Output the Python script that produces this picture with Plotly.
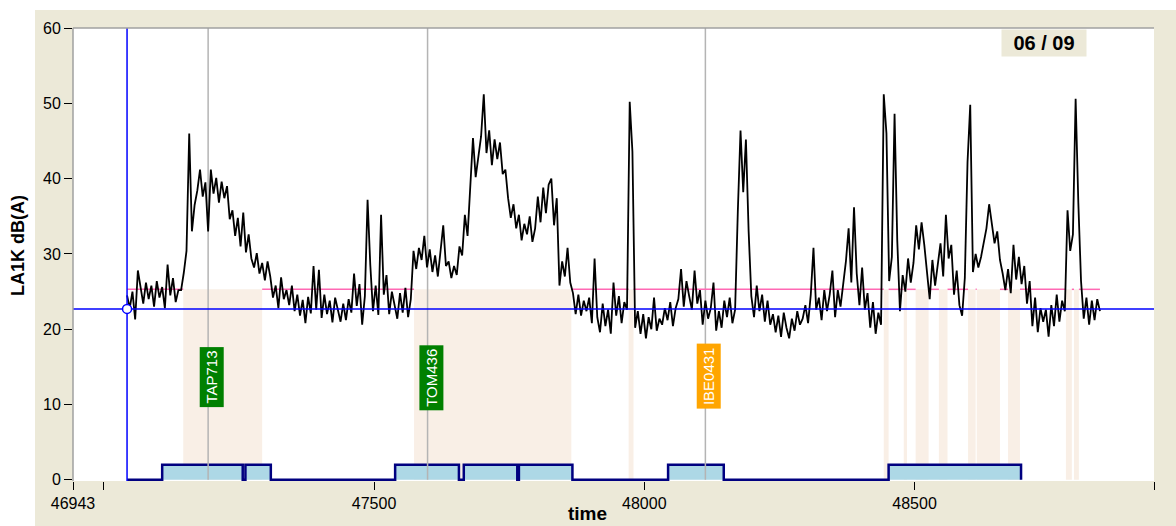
import plotly.graph_objects as go

# ---------------- data ----------------
t_start = 47043
t_step = 5
la1k = [
    24.5, 22.8, 25.0, 21.3, 27.8, 25.5, 23.4, 26.2, 24.0, 25.8,
    23.0, 26.4, 24.2, 25.6, 22.8, 28.6, 24.5, 26.8, 23.6, 25.2,
    25.2, 27.5, 30.4, 46.0, 33.0, 36.5, 38.4, 41.2, 37.6, 39.5,
    33.0, 41.2, 38.0, 40.1, 36.8, 39.6, 37.4, 39.0, 34.6, 35.8,
    32.4, 34.8, 31.0, 35.5, 30.2, 32.6, 29.4, 28.2, 30.1, 27.4,
    28.8, 26.5, 29.0, 27.0, 24.2, 25.8, 22.8, 26.9, 24.0, 25.2,
    23.2, 25.8, 22.4, 24.6, 21.8, 23.9, 20.8, 24.3, 22.1, 28.4,
    22.6, 27.9, 21.5, 24.6, 22.0, 23.8, 20.9, 24.2, 22.5, 21.0,
    23.4, 21.2, 24.0, 22.2, 27.4, 23.1, 26.0, 20.6, 24.4, 37.2,
    28.6, 22.4, 25.8, 21.9, 35.2, 24.6, 27.2, 22.0, 25.0, 23.2,
    21.4, 24.8, 22.2, 25.5, 21.6, 24.0, 30.4, 28.0, 30.8, 29.2,
    32.4, 28.2, 30.6, 27.6, 29.8, 27.0, 30.2, 33.8, 28.4, 29.0,
    26.8, 28.4, 27.2, 31.0, 29.8, 35.2, 32.4, 38.6, 45.4, 40.2,
    42.8, 45.6, 51.2, 43.4, 46.4, 41.8, 45.2, 42.6, 44.8, 40.6,
    41.2, 37.4, 34.8, 36.6, 33.4, 35.2, 31.8, 34.0, 32.6, 35.0,
    31.6, 33.4, 37.6, 34.2, 38.8, 35.4, 39.2, 40.0, 33.8, 37.4,
    25.8, 29.0, 27.0, 30.8, 26.2, 24.8, 22.0, 24.6, 21.8, 23.8,
    22.4, 24.2, 20.8, 29.4, 21.6, 19.6, 23.4, 20.4, 22.6, 19.4,
    26.2, 21.8, 24.4, 20.8, 23.6, 22.6, 50.2, 43.6, 20.2, 22.4,
    19.4, 22.0, 18.8, 21.6, 20.0, 24.2, 19.8, 21.4, 20.6, 22.8,
    21.2, 23.6, 20.4, 22.8, 24.0, 28.0, 23.0, 26.4, 24.4, 22.6,
    27.8, 23.4, 25.2, 20.6, 23.8, 21.4, 22.8, 26.2, 19.8, 22.4,
    20.2, 23.8, 21.6, 24.2, 20.8, 22.6, 35.6, 46.4, 38.2, 45.2,
    33.0, 24.4, 21.6, 25.8, 22.4, 24.6, 21.0, 23.8, 20.6, 22.0,
    19.6, 21.8, 19.0, 22.2, 20.2, 18.8, 21.4, 19.8, 22.4, 20.6,
    21.4, 23.2, 20.8, 24.6, 30.8, 22.6, 24.2, 21.2, 25.2, 22.4,
    24.6, 27.8, 21.6, 25.2, 23.0, 26.4, 29.0, 33.4, 26.2, 36.2,
    27.4, 23.2, 28.2, 22.6, 24.8, 20.2, 23.6, 19.4, 22.2, 20.6,
    51.2, 46.0, 26.4, 29.6, 48.6, 31.8, 22.4, 27.2, 25.0, 29.4,
    26.2, 28.8, 33.8, 30.6, 34.2, 31.2, 28.0, 24.0, 29.2, 25.8,
    28.6, 31.4, 27.0, 35.2, 29.4, 31.2, 24.6, 27.8, 23.2, 21.8,
    26.8, 42.2, 49.8, 27.6, 30.0, 28.2, 29.6, 31.8, 33.4, 36.6,
    34.2, 31.4, 33.0, 29.2, 27.4, 25.2, 28.0, 24.8, 31.2, 26.6,
    29.6, 26.0, 28.4, 23.4, 26.4, 20.4, 24.2, 19.6, 22.8, 21.0,
    22.6, 19.0, 23.2, 20.4, 24.6, 21.0, 23.8, 22.4, 35.8, 30.4,
    32.6, 50.6, 36.8, 26.4, 21.4, 24.2, 20.6, 23.8, 21.2, 24.0,
    22.4,
]
times = [t_start + i * t_step for i in range(len(la1k))]

cursor_time = 47043
cursor_level = 22.7
threshold_level = 25.3

shade_start = [47147, 47574, 47971, 48443, 48480, 48502, 48545, 48599, 48615, 48673, 48780, 48795]
shade_end = [47293, 47865, 47980, 48452, 48486, 48526, 48561, 48613, 48658, 48695, 48791, 48804]

event_start = [47108, 47262, 47539, 47666, 47768, 48044, 48452]
event_end = [47257, 47309, 47657, 47765, 47867, 48147, 48697]
event_level = 2

flight_time = [47193, 47599, 48113]
flight_label = ["TAP713", "TOM436", "IBE0431"]
flight_color = ["#008000", "#008000", "#FFA500"]
label_y = [13.7, 13.6, 13.8]

x_ticks = [46943, 47000, 47500, 48000, 48500, 48943]
x_ticktext = ["46943", "", "47500", "48000", "48500", "48943"]
y_ticks = [0, 10, 20, 30, 40, 50, 60]
page_label = "06 / 09"

# ---------------- figure ----------------
W, H = 1176, 526
ML, MR, MT, MB = 73, 22, 28, 45
pw, ph = W - ML - MR, H - MT - MB


def px_x(p):
    return (p - ML) / pw


def px_y(p):
    return (H - MB - p) / ph


fig = go.Figure()

# event step (filled)
ex, ey = [cursor_time], [0]
for s, e in zip(event_start, event_end):
    ex += [s, s, e, e]
    ey += [0, event_level, event_level, 0]
fig.add_trace(go.Scatter(x=ex, y=ey, mode="lines", fill="tozeroy",
                         fillcolor="#ADD8E6", line=dict(color="#000080", width=2.5),
                         hoverinfo="skip", showlegend=False))

# flight vertical lines
for ft in flight_time:
    fig.add_trace(go.Scatter(x=[ft, ft], y=[0, 60], mode="lines",
                             line=dict(color="#B4B4B4", width=1.5),
                             hoverinfo="skip", showlegend=False))

# threshold (pink) line broken at shaded regions
px_, py_ = [], []
cur = times[0]
for s, e in zip(shade_start, shade_end):
    px_ += [cur, s, None]
    py_ += [threshold_level, threshold_level, None]
    cur = e
px_ += [cur, times[-1]]
py_ += [threshold_level, threshold_level]
fig.add_trace(go.Scatter(x=px_, y=py_, mode="lines", line=dict(color="#FF69B4", width=1.5),
                         connectgaps=False, hoverinfo="skip", showlegend=False))

# level trace
fig.add_trace(go.Scatter(x=times, y=la1k, mode="lines",
                         line=dict(color="black", width=1.8), showlegend=False))

# cursor lines
fig.add_trace(go.Scatter(x=[cursor_time, cursor_time], y=[-0.15, 60], mode="lines",
                         line=dict(color="#0000FF", width=1.5), hoverinfo="skip", showlegend=False))
fig.add_trace(go.Scatter(x=[46943, 48943], y=[cursor_level, cursor_level], mode="lines",
                         line=dict(color="#0000FF", width=1.5), hoverinfo="skip", showlegend=False))
fig.add_trace(go.Scatter(x=[cursor_time], y=[cursor_level], mode="markers",
                         marker=dict(symbol="circle", size=9, color="white",
                                     line=dict(color="#0000FF", width=1.5)),
                         cliponaxis=False, hoverinfo="skip", showlegend=False))

shapes = []
for s, e in zip(shade_start, shade_end):
    shapes.append(dict(type="rect", xref="x", yref="y", x0=s, x1=e, y0=0, y1=threshold_level,
                       fillcolor="#F9EFE6", line=dict(width=0), layer="below"))
# white strips outside panel
shapes.append(dict(type="rect", xref="paper", yref="paper", x0=px_x(0), x1=px_x(35),
                   y0=px_y(H), y1=px_y(0), fillcolor="white", line=dict(width=0), layer="below"))
shapes.append(dict(type="rect", xref="paper", yref="paper", x0=px_x(0), x1=px_x(W),
                   y0=px_y(10), y1=px_y(0), fillcolor="white", line=dict(width=0), layer="below"))
# plot frame (top / left)
shapes.append(dict(type="line", xref="paper", yref="paper", x0=0, x1=1, y0=1, y1=1,
                   line=dict(color="#A0A0A0", width=1.5)))
shapes.append(dict(type="line", xref="paper", yref="paper", x0=0, x1=0, y0=0, y1=1,
                   line=dict(color="#A0A0A0", width=1.5)))

annotations = []
for ft, lab, col, ly in zip(flight_time, flight_label, flight_color, label_y):
    annotations.append(dict(x=ft + 7, y=ly, xref="x", yref="y", text=lab, textangle=-90,
                            xanchor="center", yanchor="middle",
                            showarrow=False, bgcolor=col, borderpad=3,
                            font=dict(family="Liberation Sans Narrow, Arial Narrow, Liberation Sans",
                                      size=15, color="white")))
annotations.append(dict(x=px_x(1044), y=px_y(43), xref="paper", yref="paper",
                        text="<b>" + page_label + "</b>", xanchor="center", yanchor="middle",
                        showarrow=False, bgcolor="#ECE9D8", width=82, height=24,
                        font=dict(family="Liberation Sans Narrow, Arial Narrow, Liberation Sans",
                                  size=20, color="black")))
annotations.append(dict(x=px_x(18), y=px_y(246), xref="paper", yref="paper", text="<b>LA1K dB(A)</b>",
                        textangle=-90, showarrow=False, xanchor="center", yanchor="middle",
                        font=dict(family="Liberation Sans, Arial", size=18, color="black")))
annotations.append(dict(x=px_x(587), y=px_y(513), xref="paper", yref="paper", text="<b>time</b>",
                        showarrow=False, xanchor="center", yanchor="middle",
                        font=dict(family="Liberation Sans, Arial", size=19, color="black")))

fig.update_layout(
    width=W, height=H,
    margin=dict(l=ML, r=MR, t=MT, b=MB, pad=0),
    paper_bgcolor="#ECE9D8", plot_bgcolor="white",
    shapes=shapes, annotations=annotations,
    showlegend=False,
    font=dict(family="Liberation Sans, Arial", size=16, color="black"),
)
fig.update_xaxes(range=[46943, 48943], tickmode="array", tickvals=x_ticks, ticktext=x_ticktext,
                 ticks="outside", ticklen=8, tickwidth=1, tickcolor="black",
                 showgrid=False, zeroline=False, showline=False,
                 tickfont=dict(size=16, color="black"))
fig.update_yaxes(range=[-0.15, 60], tickmode="array", tickvals=y_ticks,
                 ticks="outside", ticklen=8, tickwidth=1, tickcolor="black",
                 showgrid=False, zeroline=False, showline=False,
                 tickfont=dict(size=16, color="black"))

fig.write_html("out.html", config={"displayModeBar": False},
               post_script="document.body.style.margin='0px';document.body.style.overflow='hidden';")
